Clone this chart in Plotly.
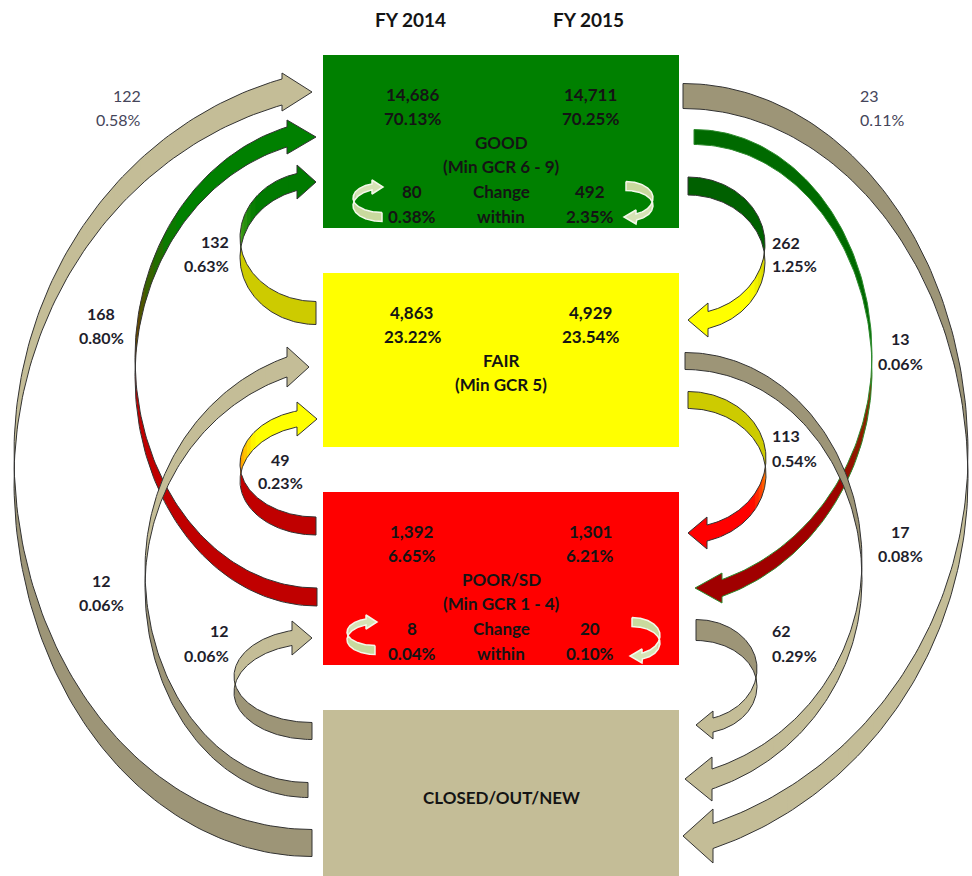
import numpy as np
import plotly.graph_objects as go

# ---- data ----
CATEGORIES = ["GOOD", "FAIR", "POOR/SD", "CLOSED/OUT/NEW"]
GCR_RANGE = ["(Min GCR 6 - 9)", "(Min GCR 5)", "(Min GCR 1 - 4)", ""]
YEARS = ["FY 2014", "FY 2015"]

COUNT_2014 = [14686, 4863, 1392, None]
PCT_2014 = [70.13, 23.22, 6.65, None]
COUNT_2015 = [14711, 4929, 1301, None]
PCT_2015 = [70.25, 23.54, 6.21, None]

WITHIN_COUNT_2014 = [80, None, 8, None]
WITHIN_PCT_2014 = [0.38, None, 0.04, None]
WITHIN_COUNT_2015 = [492, None, 20, None]
WITHIN_PCT_2015 = [2.35, None, 0.10, None]

FLOW_FROM = ["CLOSED/OUT/NEW", "POOR/SD", "FAIR", "CLOSED/OUT/NEW", "POOR/SD", "CLOSED/OUT/NEW",
             "GOOD", "GOOD", "GOOD", "FAIR", "FAIR", "POOR/SD"]
FLOW_TO = ["GOOD", "GOOD", "GOOD", "FAIR", "FAIR", "POOR/SD",
           "CLOSED/OUT/NEW", "POOR/SD", "FAIR", "CLOSED/OUT/NEW", "POOR/SD", "CLOSED/OUT/NEW"]
FLOW_COUNT = [122, 168, 132, 12, 49, 12, 23, 13, 262, 17, 113, 62]
FLOW_PCT = [0.58, 0.80, 0.63, 0.06, 0.23, 0.06, 0.11, 0.06, 1.25, 0.08, 0.54, 0.29]

# ---- layout / styling ----
FONT = "Lato"
BOX_X = (323, 679)
BOX_Y = {"GOOD": (55, 228), "FAIR": (273, 447), "POOR/SD": (492, 665), "CLOSED/OUT/NEW": (710, 880)}
BOX_COLOR = {"GOOD": "#008000", "FAIR": "#FFFF00", "POOR/SD": "#FF0000", "CLOSED/OUT/NEW": "#C4BD97"}
COL_X = (412, 590)
MID_X = 501
ROW_DY = [39, 63, 87, 111, 136, 161]

TAN = "#C4BD97"
TAN_D = "#9D9577"

# arrow geometry: tail x, tail y, tail width, extreme x, head base x, head y,
# head shaft width, head half height, tip x, end angle of the arc
FLOW_GEOM = [
    (312, 843, 27, 14, 282, 92, 26, 19, 312, 75),
    (317, 597, 18, 135, 287, 137, 20, 17, 316, 75),
    (316, 313, 23, 240, 297, 182, 17, 17, 316, 75),
    (308, 790, 15, 145, 287, 367, 20, 20, 309, 72),
    (316, 526, 18, 240, 297, 419, 16, 17, 317, 75),
    (312, 731, 17, 234, 292, 638, 15, 17, 312, 75),
    (683, 96, 25, 968, 713, 836, 25, 27, 683, 72),
    (694, 137, 15, 872, 722, 588, 17, 15, 695, 72),
    (688, 186, 18, 765, 708, 320, 17, 17, 688, 75),
    (685, 361, 17, 862, 712, 779, 20, 22, 685, 72),
    (688, 400, 17, 766, 707, 533, 16, 16, 688, 75),
    (696, 630, 21, 757, 713, 725, 14, 14, 696, 75),
]
# back face colour, front face start colour, front face end colour
FLOW_COLORS = [
    (TAN_D, TAN, TAN),
    ("#C00000", "#7A3C00", "#008000"),
    ("#CDCB00", "#55A81E", "#007A00"),
    (TAN_D, TAN, TAN),
    ("#C00000", "#FF8000", "#FFFF00"),
    (TAN_D, TAN, TAN),
    (TAN_D, TAN, TAN),
    ("#006A00", "#7A3C00", "#A00000"),
    ("#006000", "#C8C800", "#FFFF00"),
    (TAN_D, TAN, TAN),
    ("#CDCB00", "#FF9000", "#FF0000"),
    (TAN_D, TAN, TAN),
]
# label x, first line y, second line y, anchor, bold
FLOW_LABEL = [
    (143, 95, 119, "right", False),
    (101, 313, 337, "center", True),
    (231, 241, 265, "right", True),
    (101, 580, 604, "center", True),
    (280, 459, 482, "center", True),
    (231, 630, 655, "right", True),
    (858, 95, 119, "left", False),
    (900, 338, 363, "center", True),
    (770, 242, 265, "left", True),
    (900, 531, 555, "center", True),
    (770, 435, 460, "left", True),
    (770, 630, 655, "left", True),
]
# small "change within" arrows inside the boxes
WITHIN_GEOM = {
    "GOOD": [(382, 217, 9, 353, 372, 187, 6, 7, 383, 75), (626, 186, 9, 653, 636, 217, 6, 7, 624, 75)],
    "POOR/SD": [(375, 650, 9, 347, 366, 622, 6, 7, 377, 75), (632, 622, 9, 660, 642, 656, 6, 7, 630, 75)],
}


def hex_rgb(c):
    c = c.lstrip("#")
    return [int(c[i:i + 2], 16) for i in (0, 2, 4)]


def mix(c1, c2, t):
    a, b = hex_rgb(c1), hex_rgb(c2)
    return "rgb(%d,%d,%d)" % tuple(round(a[i] + (b[i] - a[i]) * t) for i in range(3))


def arc_halves(g, n=80):
    tx, ty, tw, ex, bx, hy, hw, hh, tip, tilt = g
    s_in = 1.0 if tx > ex else -1.0
    ym = (ty + hy) / 2
    wm = (tw + hw) / 2
    u1 = np.linspace(np.pi / 2, 0, n)
    x1 = ex + s_in * abs(tx - ex) * (1 - np.cos(u1))
    y1 = ym + (ty - ym) * np.sin(u1)
    w1 = wm + (tw - wm) * np.sin(u1)
    ue = np.radians(tilt)
    u2 = np.linspace(0, ue, n)
    x2 = ex + s_in * abs(bx - ex) / (1 - np.cos(ue)) * (1 - np.cos(u2))
    y2 = ym + (hy - ym) * np.sin(u2) / np.sin(ue)
    w2 = wm + (hw - wm) * u2 / ue
    return (x1, y1, w1), (x2, y2, w2)


def poly(fig, xs, ys, color):
    fig.add_trace(go.Scatter(x=list(xs), y=list(ys), mode="lines", fill="toself",
                             fillcolor=color, line=dict(width=0), hoverinfo="skip",
                             showlegend=False))


def add_arrow(fig, g, back, f0, f1, edge="#333333", edge_w=1.0, pieces=12):
    (x1, y1, w1), (x2, y2, w2) = arc_halves(g)
    tx, ty, tw, ex, bx, hy, hw, hh, tip, tilt = g
    # back face (tail half)
    poly(fig, np.r_[x1, x1[::-1]], np.r_[y1 - w1 / 2, (y1 + w1 / 2)[::-1]], back)
    # front face (head half) with a short gradient
    idx = np.linspace(0, len(x2) - 1, pieces + 1).astype(int)
    for i in range(pieces):
        a, b = idx[i], min(idx[i + 1] + 2, len(x2) - 1)
        t = min(1.0, (i / (pieces - 1)) / 0.5)
        xs = x2[a:b + 1]
        poly(fig, np.r_[xs, xs[::-1]],
             np.r_[y2[a:b + 1] - w2[a:b + 1] / 2, (y2[a:b + 1] + w2[a:b + 1] / 2)[::-1]],
             mix(f0, f1, t))
    back_x = bx - 2 * np.sign(tip - bx)
    poly(fig, [back_x, bx, bx, tip, bx, bx, back_x],
         [hy - hw / 2 + 1, hy - hw / 2, hy - hh, hy, hy + hh, hy + hw / 2, hy + hw / 2 - 1], f1)
    # outline
    xs = np.r_[x1, x2[1:]]
    ys = np.r_[y1, y2[1:]]
    ws = np.r_[w1, w2[1:]]
    ox = np.r_[xs, [bx, tip, bx], xs[::-1], xs[:1]]
    oy = np.r_[ys - ws / 2, [hy - hh, hy, hy + hh], (ys + ws / 2)[::-1], ys[:1] - ws[:1] / 2]
    fig.add_trace(go.Scatter(x=ox, y=oy, mode="lines", line=dict(color=edge, width=edge_w),
                             hoverinfo="skip", showlegend=False))


fig = go.Figure()

# boxes
for cat in CATEGORIES:
    y0, y1 = BOX_Y[cat]
    fig.add_shape(type="rect", x0=BOX_X[0], x1=BOX_X[1], y0=y0, y1=y1, xref="x", yref="y",
                  fillcolor=BOX_COLOR[cat], line=dict(width=0), layer="below")

# flow arrows
for g, (back, f0, f1), src in zip(FLOW_GEOM, FLOW_COLORS, FLOW_FROM):
    edge = "#2E8B2E" if (src == "GOOD" and f1 == "#A00000") else "#333333"
    add_arrow(fig, g, back, f0, f1, edge=edge)

# change-within arrows
for cat, geoms in WITHIN_GEOM.items():
    for g in geoms:
        add_arrow(fig, g, "#C9D99E", "#D6E3B5", "#D6E3B5", edge="#F4F8EA", edge_w=1.5, pieces=3)

ann = []


def text(x, y, s, size=17, anchor="center", bold=True, color="#141414"):
    ann.append(dict(x=x, y=y, xref="x", yref="y", text=("<b>%s</b>" % s) if bold else s,
                    showarrow=False, xanchor=anchor, yanchor="middle",
                    font=dict(family=FONT, size=size, color=color)))


# headers
for x, yr in zip(COL_X, YEARS):
    text(x - 2, 19, yr, size=19)

# box texts
for i, cat in enumerate(CATEGORIES):
    top = BOX_Y[cat][0]
    if COUNT_2014[i] is None:
        text(MID_X, 797, cat, size=17)
        continue
    text(COL_X[0], top + ROW_DY[0], f"{COUNT_2014[i]:,}")
    text(COL_X[1], top + ROW_DY[0], f"{COUNT_2015[i]:,}")
    text(COL_X[0], top + ROW_DY[1], f"{PCT_2014[i]:.2f}%")
    text(COL_X[1], top + ROW_DY[1], f"{PCT_2015[i]:.2f}%")
    text(MID_X, top + ROW_DY[2], cat)
    text(MID_X, top + ROW_DY[3], GCR_RANGE[i])
    if WITHIN_COUNT_2014[i] is not None:
        text(COL_X[0], top + ROW_DY[4], f"{WITHIN_COUNT_2014[i]:,}")
        text(MID_X, top + ROW_DY[4], "Change")
        text(COL_X[1], top + ROW_DY[4], f"{WITHIN_COUNT_2015[i]:,}")
        text(COL_X[0], top + ROW_DY[5], f"{WITHIN_PCT_2014[i]:.2f}%")
        text(MID_X, top + ROW_DY[5], "within")
        text(COL_X[1], top + ROW_DY[5], f"{WITHIN_PCT_2015[i]:.2f}%")

# flow labels
for (x, ya, yb, anchor, bold), c, p in zip(FLOW_LABEL, FLOW_COUNT, FLOW_PCT):
    col = "#1E1E2C" if bold else "#45455A"
    text(x, ya, f"{c:,}", size=16, anchor=anchor, bold=bold, color=col)
    text(x, yb, f"{p:.2f}%", size=16, anchor=anchor, bold=bold, color=col)

fig.update_layout(
    width=972, height=876,
    margin=dict(l=0, r=0, t=0, b=0),
    paper_bgcolor="white", plot_bgcolor="white",
    xaxis=dict(range=[0, 972], visible=False, fixedrange=True),
    yaxis=dict(range=[876, 0], visible=False, fixedrange=True),
    annotations=ann,
    showlegend=False,
)

fig.write_html("out.html", config={"displayModeBar": False},
               post_script="document.body.style.margin='0';")
